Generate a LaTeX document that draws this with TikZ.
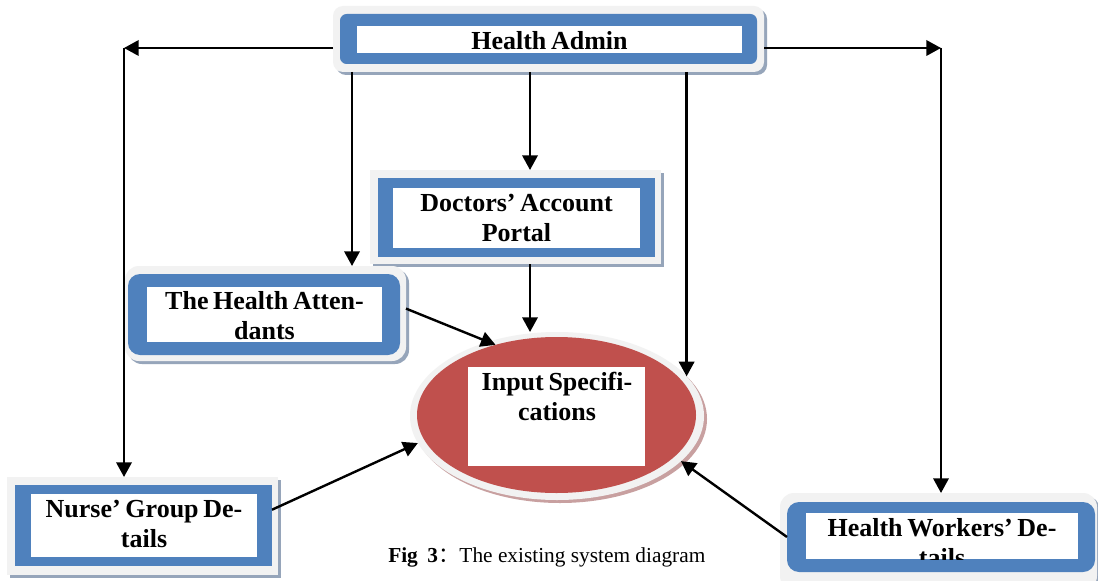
\documentclass[tikz,border=0pt]{standalone}
\usepackage{fontspec}
\setmainfont{Liberation Serif}
\newfontfamily\cjkfont{Noto Sans CJK SC}
\usetikzlibrary{shapes.geometric,shadows,arrows.meta,calc}
\definecolor{boxblue}{RGB}{79,129,189}
\definecolor{panelgray}{RGB}{242,242,242}
\definecolor{shadowblue}{RGB}{150,165,186}
\definecolor{ellred}{RGB}{192,80,77}
\definecolor{shadowpink}{RGB}{200,160,160}
\newlength\pxu
\setlength\pxu{0.75pt}
\newcommand\boxfont{\fontsize{19.5pt}{22.5pt}\selectfont\bfseries\spaceskip=0.18em plus 0.05em minus 0.02em\relax}
\begin{document}
\begin{tikzpicture}[x=0.75pt,y=-0.75pt,
  panel/.style={fill=panelgray, draw=none, inner sep=0pt, outer sep=0pt,
    drop shadow={shadow xshift=2.25pt, shadow yshift=-2.25pt, fill=shadowblue, opacity=1}},
  ellpanel/.style={ellipse, fill=panelgray, draw=none, inner sep=0pt, outer sep=0pt,
    drop shadow={shadow xshift=2.25pt, shadow yshift=-2.25pt, fill=shadowpink, opacity=1}},
  blueframe/.style={fill=boxblue, draw=none, inner sep=0pt, outer sep=0pt},
  whitebox/.style={fill=white, draw=none, inner sep=0pt, outer sep=0pt},
  boxtext/.style={inner sep=0pt, align=center, font=\boxfont},
  conn/.style={line width=1.8pt, draw=black},
  arr/.style={conn, -{Triangle[length=11pt,width=11.5pt]}}
]
\useasboundingbox (0,0) rectangle (1098,581);
\fill[white] (0,0) rectangle (1098,581);

% Health Admin
\node[panel, rounded corners=7.5pt, minimum width=431\pxu, minimum height=66\pxu] (admin) at (548.5,39) {};
\node[blueframe, rounded corners=5pt, minimum width=417\pxu, minimum height=50\pxu] (adminB) at (548.5,39) {};
\node[whitebox, minimum width=385\pxu, minimum height=27\pxu] (adminW) at (549.5,39.5) {};
\node[boxtext] (adminT) at (549.5,41) {Health Admin};

% Doctors' Account Portal
\node[panel, minimum width=291\pxu, minimum height=94\pxu] (doctors) at (515.5,217) {};
\node[blueframe, minimum width=277\pxu, minimum height=79\pxu] (doctorsB) at (516.5,217.5) {};
\node[whitebox, minimum width=247\pxu, minimum height=60\pxu] (doctorsW) at (516.5,218) {};
\node[boxtext] (doctorsT) at (516.5,218) {Doctors’ Account\\Portal};

% The Health Attendants
\node[panel, rounded corners=10.5pt, minimum width=281\pxu, minimum height=95\pxu] (att) at (265.5,313.5) {};
\node[blueframe, rounded corners=9pt, minimum width=272\pxu, minimum height=81\pxu] (attB) at (264,314.5) {};
\node[whitebox, minimum width=235\pxu, minimum height=55\pxu] (attW) at (264.5,314.5) {};
\begin{scope}
  \clip (attW.south west) rectangle (attW.north east);
  \node[boxtext] (attT) at (264.5,316) {The Health Atten-\\dants};
\end{scope}

% Nurse' Group Details
\node[panel, minimum width=271\pxu, minimum height=98\pxu] (nurse) at (142.5,526) {};
\node[blueframe, minimum width=257\pxu, minimum height=81\pxu] (nurseB) at (143.5,525.5) {};
\node[whitebox, minimum width=226\pxu, minimum height=63\pxu] (nurseW) at (144,525.5) {};
\node[boxtext] (nurseT) at (144,524) {Nurse’ Group De-\\tails};

% Health Workers' Details
\node[panel, rounded corners=10.5pt, minimum width=317\pxu, minimum height=97\pxu] (workers) at (938.5,541.5) {};
\node[blueframe, rounded corners=9pt, minimum width=308\pxu, minimum height=70\pxu] (workersB) at (941,537) {};
\node[whitebox, minimum width=272\pxu, minimum height=46\pxu] (workersW) at (942,536) {};
\begin{scope}
  \clip (workersW.south west) rectangle (workersW.north east);
  \node[boxtext] (workersT) at (942,543) {Health Workers’ De-\\tails};
\end{scope}

% Input Specifications
\node[ellpanel, minimum width=294\pxu, minimum height=168\pxu] (input) at (557,416) {};
\node[ellipse, fill=ellred, draw=none, inner sep=0pt, outer sep=0pt, minimum width=279\pxu, minimum height=156\pxu] (inputR) at (556.5,415) {};
\node[whitebox, minimum width=177\pxu, minimum height=99\pxu] (inputW) at (556.5,416.5) {};
\node[boxtext] (inputT) at (557,396) {Input Specifi-\\cations};

% connectors
\coordinate (cornerL) at (124,48);
\coordinate (cornerR) at (941,48);
\coordinate (xa) at (352,0);
\coordinate (xd) at (530,0);

\draw[arr] (admin.west |- cornerL) -- (cornerL);
\draw[arr] (cornerL) -- (cornerL |- nurse.north);
\draw[arr] (admin.east |- cornerR) -- (cornerR);
\draw[arr] (cornerR) -- (cornerR |- workers.north);
\draw[arr] (admin.south -| xa) -- (att.north -| xa);
\draw[arr] (admin.south -| xd) -- (doctors.north -| xd);
\draw[arr] (admin.south -| input.17) -- (input.17);
\draw[arr] (doctors.south -| xd) -- (input.north -| xd);
\draw[arr] (att.2) -- (inputR.131);
\draw[arr] (nurseB.7) -- (input.191);
\draw[arr] (workersB.west) -- (input.340);

% caption
\node[anchor=base west, inner sep=0pt, font=\fontsize{16pt}{18pt}\selectfont] (caption) at (388,562)
  {\textbf{Fig\hspace{0.45em}3}{\cjkfont ：}The existing system diagram};
\end{tikzpicture}
\end{document}
